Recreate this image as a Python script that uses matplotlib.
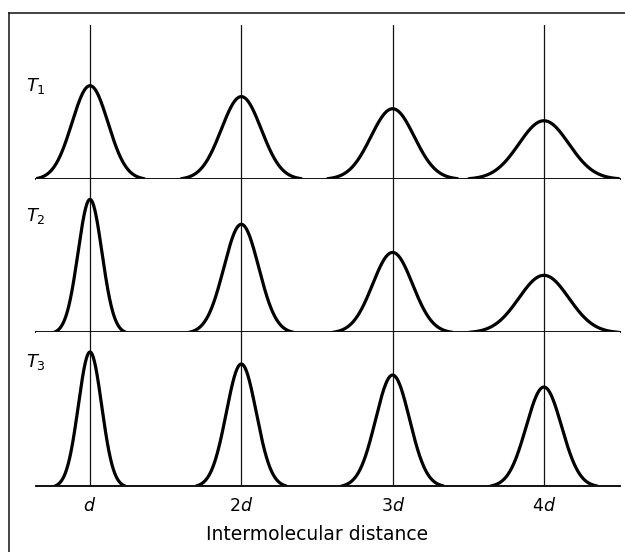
import numpy as np
import matplotlib
matplotlib.use('Agg')
import matplotlib.pyplot as plt
from matplotlib.lines import Line2D

# peak positions in units of the intermolecular distance d
positions = [1, 2, 3, 4]
tick_labels = ['$d$', '$2d$', '$3d$', '$4d$']
row_labels = ['$T_1$', '$T_2$', '$T_3$']

# peak heights (fraction of panel height) for each temperature
heights_t1 = [0.605, 0.534, 0.455, 0.377]
heights_t2 = [0.865, 0.703, 0.520, 0.371]
heights_t3 = [0.872, 0.794, 0.722, 0.644]

# peak widths (standard deviation, in units of d)
sigmas_t1 = [0.119, 0.132, 0.143, 0.165]
sigmas_t2 = [0.079, 0.115, 0.132, 0.165]
sigmas_t3 = [0.077, 0.099, 0.112, 0.117]

rows = [
    (row_labels[0], heights_t1, sigmas_t1),
    (row_labels[1], heights_t2, sigmas_t2),
    (row_labels[2], heights_t3, sigmas_t3),
]

W, H = 625, 552
plt.rcParams['mathtext.fontset'] = 'dejavusans'
fig = plt.figure(figsize=(W / 100, H / 100), dpi=100)

left, right = 36, 620
top, bottom = 25, 486
panel_h = (bottom - top) / 3
label_y = [0.60, 0.76, 0.81]

xmin = 1 + (left - 90) / 151.3
xmax = 1 + (right - 90) / 151.3

for i, (name, heights, sigmas) in enumerate(rows):
    y_top = top + i * panel_h
    ax = fig.add_axes([left / W, 1 - (y_top + panel_h) / H,
                       (right - left) / W, panel_h / H])
    ax.set_xlim(xmin, xmax)
    ax.set_ylim(0, 1)
    for s in ['top', 'left', 'right']:
        ax.spines[s].set_visible(False)
    ax.spines['bottom'].set_linewidth(1.4)
    ax.spines['bottom'].set_color('#111111')
    ax.set_yticks([])
    ax.tick_params(axis='x', length=0)
    ax.set_xticks(positions)
    if i < 2:
        ax.set_xticklabels([])
    else:
        ax.set_xticklabels(tick_labels, fontsize=12.5)
        ax.tick_params(axis='x', pad=8)

    for mu, h, s in zip(positions, heights, sigmas):
        ax.axvline(mu, color='#111111', lw=0.9, zorder=1)
        x = np.linspace(mu - 3 * s, mu + 3 * s, 300)
        g = np.exp(-0.5 * ((x - mu) / s) ** 2)
        g_end = np.exp(-4.5)
        # drop the tails so each peak lands on the baseline
        y = h * (g - g_end) / (1 - g_end)
        ax.plot(x, y, color='black', lw=2.3, solid_capstyle='round', zorder=2)

    ax.text(-0.017, label_y[i], name, transform=ax.transAxes,
            fontsize=13, ha='left', va='center')

fig.text(317 / W, 1 - 535 / H, 'Intermolecular distance',
         fontsize=13.5, ha='center', va='center')

# outer frame: top rule and left rule
fig.add_artist(Line2D([9 / W, 1], [1 - 13 / H, 1 - 13 / H],
                      color='#111111', lw=1.1, transform=fig.transFigure))
fig.add_artist(Line2D([9 / W, 9 / W], [0, 1 - 13 / H],
                      color='#111111', lw=1.1, transform=fig.transFigure))

fig.savefig('out.png', dpi=100)
